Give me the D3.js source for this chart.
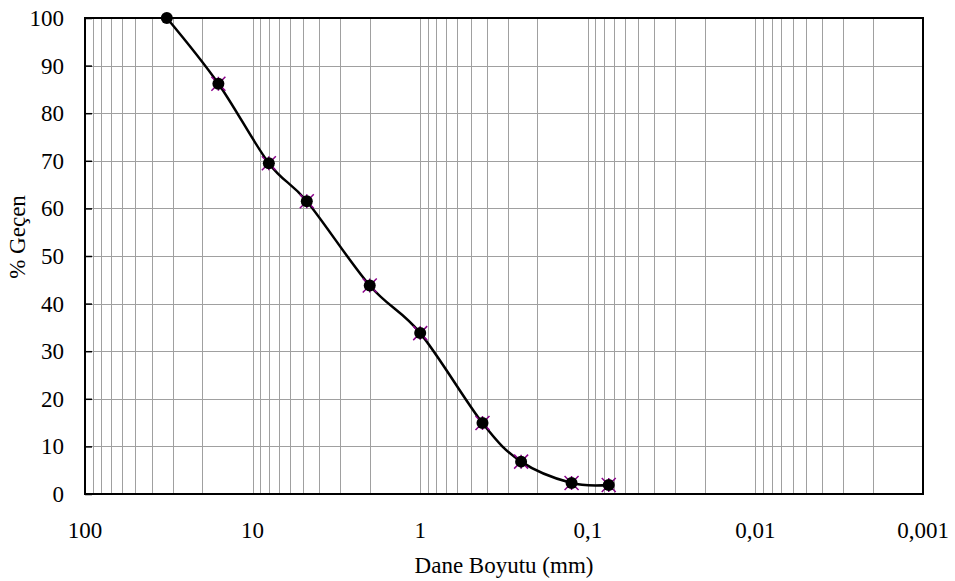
<!DOCTYPE html>
<html>
	<head>
		<meta charset="utf-8">
		<title> Dane dagilimi </title>
		<style>
			body { margin: 0; background: #fff; }
			text { font-family: "Liberation Serif", "Times New Roman", serif; fill: #000; }
		</style>
	</head>
	<body>
		<!-- load the library for D3.js -->
		<script src="https://cdn.jsdelivr.net/npm/d3@7"></script>
		<script>
				// sieve sizes (mm) and percent passing
				var sizes   = [32.5, 16, 8, 4.75, 2, 1, 0.425, 0.25, 0.125, 0.075];
				var passing = [100, 86.2, 69.5, 61.5, 43.8, 33.8, 14.9, 6.8, 2.3, 1.9];
				var xTicks  = [100, 10, 1, 0.1, 0.01, 0.001];
				var xTickLabels = ["100", "10", "1", "0,1", "0,01", "0,001"];
				var yTicks  = [0, 10, 20, 30, 40, 50, 60, 70, 80, 90, 100];

				var data = sizes.map(function(s, i) { return {size: s, pct: passing[i]}; });

				//defining SVG width and height
				var margin = {top: 18, right: 32, bottom: 87, left: 85};
				var width = 955 - margin.left - margin.right,
					height = 581 - margin.top - margin.bottom;

				//creating scales
				var xScale = d3.scaleLog()
								.domain([100, 0.001])
								.range([0, width]);
				var yScale = d3.scaleLinear()
								.domain([0, 100])
								.range([height, 0]);

				var svgGraph = d3.select("body")
								.append("svg")
								.attr("width", 955)
								.attr("height", 581);
				var svg = svgGraph.append("g")
								.attr("transform", "translate(" + margin.left + "," + margin.top + ")");

				// vertical grid (log minor + major)
				svg.append("g")
						.selectAll("line")
						.data(xScale.ticks())
						.enter().append("line")
						.attr("x1", function(d) { return Math.round(xScale(d)) + 0.5; })
						.attr("x2", function(d) { return Math.round(xScale(d)) + 0.5; })
						.attr("y1", 0)
						.attr("y2", height)
						.attr("stroke", "#a0a0a0")
						.attr("stroke-width", 1);

				// horizontal grid
				svg.append("g")
						.selectAll("line")
						.data(yTicks)
						.enter().append("line")
						.attr("x1", 0)
						.attr("x2", width)
						.attr("y1", function(d) { return Math.round(yScale(d)) + 0.5; })
						.attr("y2", function(d) { return Math.round(yScale(d)) + 0.5; })
						.attr("stroke", "#a0a0a0")
						.attr("stroke-width", 1);

				// plot border
				svg.append("rect")
						.attr("x", 0)
						.attr("y", 0)
						.attr("width", width)
						.attr("height", height)
						.attr("fill", "none")
						.attr("stroke", "#000")
						.attr("stroke-width", 2);

				// y axis, ticks pointing inside
				var yAxis = svg.append("g")
						.call(d3.axisRight(yScale).tickValues(yTicks).tickSize(7).tickFormat(""));
				yAxis.select(".domain").remove();
				yAxis.selectAll("line").attr("stroke", "#000").attr("stroke-width", 1.5);

				svg.append("g")
						.selectAll("text")
						.data(yTicks)
						.enter().append("text")
						.attr("x", -21)
						.attr("y", function(d) { return yScale(d); })
						.attr("dy", "0.35em")
						.attr("text-anchor", "end")
						.style("font-size", "23px")
						.text(function(d) { return d; });

				// x tick labels
				svg.append("g")
						.selectAll("text")
						.data(xTicks)
						.enter().append("text")
						.attr("x", function(d) { return xScale(d); })
						.attr("y", height + 44)
						.attr("text-anchor", "middle")
						.style("font-size", "23px")
						.text(function(d, i) { return xTickLabels[i]; });

				// axis titles
				svg.append("text")
						.attr("text-anchor", "middle")
						.style("font-size", "23px")
						.attr("transform", "translate(" + (width / 2) + "," + (height + 79) + ")")
						.text("Dane Boyutu (mm)");

				svg.append("text")
						.attr("text-anchor", "middle")
						.style("font-size", "23px")
						.attr("transform", "translate(" + (-60) + "," + (yScale(54)) + ") rotate(-90)")
						.text("% Geçen");

				// smoothed curve
				var line = d3.line()
						.x(function(d) { return xScale(d.size); })
						.y(function(d) { return yScale(d.pct); })
						.curve(d3.curveCardinal.tension(0));

				svg.append("path")
						.datum(data)
						.attr("d", line)
						.attr("fill", "none")
						.attr("stroke", "#000")
						.attr("stroke-width", 2.5);

				// purple star markers under the black dots
				var s = 7;
				svg.append("g")
						.selectAll("path")
						.data(data.slice(1))
						.enter().append("path")
						.attr("transform", function(d) { return "translate(" + xScale(d.size) + "," + yScale(d.pct) + ")"; })
						.attr("d", "M" + (-s) + "," + (-s) + "L" + s + "," + s + "M" + (-s) + "," + s + "L" + s + "," + (-s) + "M0," + (-s) + "L0," + s)
						.attr("stroke", "#8b008b")
						.attr("stroke-width", 1.5)
						.attr("fill", "none");

				svg.append("g")
						.selectAll("circle")
						.data(data)
						.enter().append("circle")
						.attr("cx", function(d) { return xScale(d.size); })
						.attr("cy", function(d) { return yScale(d.pct); })
						.attr("r", 6)
						.attr("fill", "#000");
		</script>
	</body>
</html>
